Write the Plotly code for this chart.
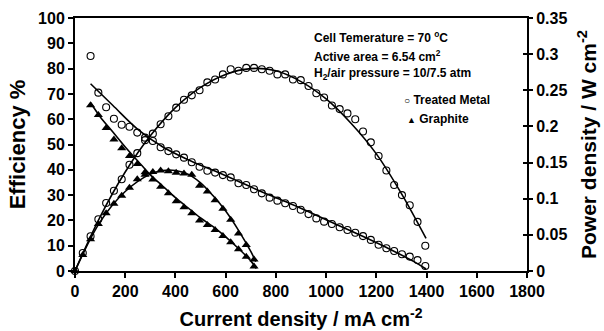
import plotly.graph_objects as go

# ---------------- data ----------------
# Treated metal – efficiency (%)
tm_eff_x = [62, 93, 124, 155, 186, 217, 248, 279, 310, 341, 372, 403, 434, 465, 496,
            527, 558, 589, 620, 651, 682, 713, 744, 775, 806, 837, 868, 899, 930, 961,
            992, 1023, 1054, 1085, 1116, 1147, 1178, 1209, 1240, 1271, 1302, 1333, 1364, 1395]
tm_eff_y = [85.0, 70.5, 64.7, 60.2, 57.8, 57.0, 54.7, 52.7, 51.4, 48.9, 47.4, 46.1, 44.8, 43.0, 41.2,
            39.6, 38.9, 37.9, 37.0, 34.7, 34.0, 32.3, 30.7, 29.0, 27.8, 26.8, 25.7, 24.2, 22.5, 20.8,
            19.5, 18.6, 17.3, 16.2, 15.1, 13.8, 12.3, 10.4, 9.0, 7.9, 6.6, 5.7, 4.3, 2.0]
# Treated metal – power density (W/cm2)
tm_pow_x = [0, 31, 62, 93, 124, 155, 186, 217, 248, 279, 310, 341, 372, 403, 434, 465,
            496, 527, 558, 589, 620, 651, 682, 713, 744, 775, 806, 837, 868, 899, 930, 961,
            992, 1023, 1054, 1085, 1116, 1147, 1178, 1209, 1240, 1271, 1302, 1333, 1364, 1395]
tm_pow_y = [0.0, 0.025, 0.048, 0.0715, 0.094, 0.111, 0.127, 0.147, 0.163, 0.181, 0.190, 0.203, 0.214, 0.226, 0.237, 0.243,
            0.250, 0.261, 0.265, 0.272, 0.279, 0.277, 0.281, 0.281, 0.279, 0.277, 0.272, 0.272, 0.265, 0.264, 0.256, 0.246,
            0.240, 0.229, 0.224, 0.218, 0.210, 0.193, 0.178, 0.159, 0.139, 0.119, 0.105, 0.091, 0.068, 0.035]
# Graphite – efficiency (%)
gr_eff_x = [62, 93, 124, 155, 186, 217, 248, 279, 310, 341, 372, 403, 434, 465, 496,
            527, 558, 589, 620, 651, 682, 713]
gr_eff_y = [65.5, 61.7, 56.5, 52.0, 48.5, 45.5, 42.3, 39.0, 36.2, 33.3, 30.7, 27.6, 25.2, 22.8, 20.0,
            18.2, 16.2, 13.8, 11.4, 8.6, 5.6, 1.8]
# Graphite – power density (W/cm2)
gr_pow_x = [0, 31, 62, 93, 124, 155, 186, 217, 248, 279, 310, 341, 372, 403, 434, 465,
            496, 527, 558, 589, 620, 651, 682, 713]
gr_pow_y = [0.0, 0.022, 0.044, 0.065, 0.080, 0.093, 0.104, 0.115, 0.127, 0.133, 0.137, 0.139, 0.138, 0.136, 0.135, 0.133,
            0.118, 0.110, 0.098, 0.086, 0.071, 0.052, 0.036, 0.016]

# Fitted curves
tm_eff_fit_x = [62, 150, 250, 350, 450, 550, 650, 750, 850, 950, 1050, 1150, 1250, 1350, 1398]
tm_eff_fit_y = [74.0, 65.5, 56.0, 49.0, 44.0, 39.8, 35.5, 31.0, 27.0, 22.5, 18.0, 13.5, 8.8, 3.7, 0.8]
tm_pow_fit_x = [0, 100, 200, 300, 400, 500, 600, 700, 800, 900, 1000, 1100, 1200, 1300, 1398]
tm_pow_fit_y = [0.0, 0.075, 0.137, 0.187, 0.226, 0.254, 0.272, 0.280, 0.277, 0.262, 0.238, 0.204, 0.162, 0.107, 0.045]
gr_eff_fit_x = [62, 100, 150, 200, 250, 300, 350, 400, 450, 500, 550, 600, 650, 700, 722]
gr_eff_fit_y = [66.5, 61.0, 55.0, 49.0, 43.5, 38.0, 33.5, 29.0, 25.0, 21.0, 17.5, 13.5, 9.0, 4.0, 1.0]
gr_pow_fit_x = [0, 100, 200, 300, 350, 400, 450, 500, 550, 600, 650, 700, 720]
gr_pow_fit_y = [0.0, 0.068, 0.110, 0.134, 0.139, 0.139, 0.134, 0.122, 0.104, 0.083, 0.057, 0.027, 0.013]

series_names = ["Treated Metal", "Graphite"]
legend_glyphs = ["○", "▲"]
notes = ["Cell Temerature = 70 <sup>o</sup>C",
         "Active area = 6.54 cm<sup>2</sup>",
         "H<sub>2</sub>/air pressure = 10/7.5 atm"]

FONT = "Liberation Sans, Arial, sans-serif"
BOLD = dict(family=FONT, color="black", weight="bold")

# pixel helpers for placing text (plot area: x 75..527, y 18..271)
PX_L, PX_R, PX_T, PX_B = 75, 527, 18, 271
def px_x(p):
    return (p - PX_L) / (PX_R - PX_L)
def px_y(p):
    return 1 - (p - PX_T) / (PX_B - PX_T)

fig = go.Figure()

line_style = dict(color="black", width=1.6)
for fx, fy, ax in [(tm_eff_fit_x, tm_eff_fit_y, "y"), (tm_pow_fit_x, tm_pow_fit_y, "y2"),
                   (gr_eff_fit_x, gr_eff_fit_y, "y"), (gr_pow_fit_x, gr_pow_fit_y, "y2")]:
    fig.add_trace(go.Scatter(x=fx, y=fy, yaxis=ax, mode="lines", line=line_style,
                             line_shape="spline", showlegend=False, hoverinfo="skip"))

circ = dict(symbol="circle-open", size=7, color="black", line=dict(width=1.1, color="black"))
tri = dict(symbol="triangle-up", size=8, color="black")

fig.add_trace(go.Scatter(x=tm_eff_x, y=tm_eff_y, mode="markers", marker=circ,
                         name=series_names[0], showlegend=False, cliponaxis=False))
fig.add_trace(go.Scatter(x=tm_pow_x, y=tm_pow_y, yaxis="y2", mode="markers", marker=circ,
                         name=series_names[0], showlegend=False, cliponaxis=False))
fig.add_trace(go.Scatter(x=gr_eff_x, y=gr_eff_y, mode="markers", marker=tri,
                         name=series_names[1], showlegend=False, cliponaxis=False))
fig.add_trace(go.Scatter(x=gr_pow_x, y=gr_pow_y, yaxis="y2", mode="markers", marker=tri,
                         name=series_names[1], showlegend=False, cliponaxis=False))
# dummy trace to attach yaxis3 (inner tick marks of the right axis)
fig.add_trace(go.Scatter(x=[None], y=[None], yaxis="y3", showlegend=False, hoverinfo="skip"))

annotations = []
for i, t in enumerate(notes):
    annotations.append(dict(text=t, xref="paper", yref="paper", x=px_x(312),
                            y=px_y(37 + i * 18.7), xanchor="left", yanchor="middle",
                            showarrow=False, font=dict(size=12, **BOLD)))
# legend drawn as text
legend_pos = [(402, 100), (405, 119)]
glyph_sizes = [10, 9]
for (gx, gy), g, gs, name in zip(legend_pos, legend_glyphs, glyph_sizes, series_names):
    annotations.append(dict(text=f'<span style="font-size:{gs}px">{g}</span> {name}',
                            xref="paper", yref="paper", x=px_x(gx), y=px_y(gy),
                            xanchor="left", yanchor="middle", showarrow=False,
                            font=dict(size=12, **BOLD)))

axis_common = dict(showgrid=False, zeroline=False, showline=True, linecolor="black",
                   linewidth=2, ticks="outside", ticklen=5, tickwidth=2, tickcolor="black",
                   tickfont=dict(size=16, **BOLD), automargin=False)

fig.update_layout(
    width=604, height=331,
    margin=dict(l=75, r=77, t=18, b=60),
    paper_bgcolor="white", plot_bgcolor="white",
    font=dict(family=FONT, color="black"),
    xaxis=dict(range=[0, 1800], dtick=200, mirror=True,
               title=dict(text="Current density / mA cm<sup>-2</sup>", font=dict(size=20, **BOLD), standoff=13),
               **axis_common),
    yaxis=dict(range=[0, 100], dtick=10,
               title=dict(text="Efficiency %", font=dict(size=22, **BOLD), standoff=6),
               **axis_common),
    yaxis2=dict(range=[0, 0.35], dtick=0.05, overlaying="y", side="right", anchor="x",
                title=dict(text="Power density / W cm<sup>-2</sup>", font=dict(size=21, **BOLD), standoff=15),
                **{**axis_common, "ticklen": 4}),
    yaxis3=dict(range=[0, 0.35], dtick=0.05, overlaying="y", side="right", anchor="x",
                showgrid=False, zeroline=False, showline=False, ticks="inside", ticklen=4,
                tickwidth=2, tickcolor="black", showticklabels=False, automargin=False),
    annotations=annotations,
    showlegend=False,
)

fig.write_html("out.html")
